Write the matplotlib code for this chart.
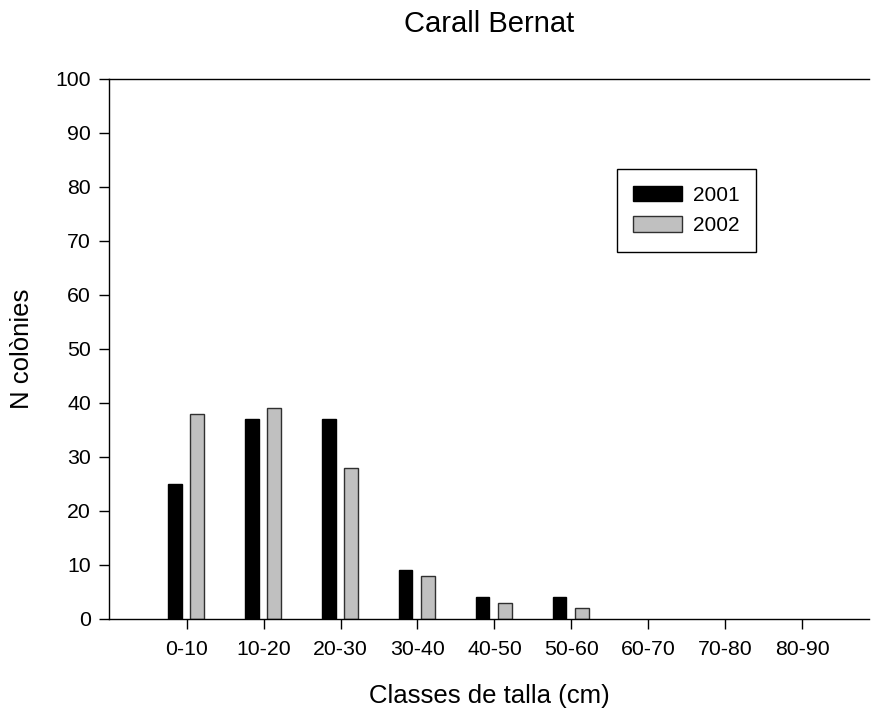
import matplotlib.pyplot as plt
import numpy as np

plt.rcParams['font.family'] = ['Liberation Sans', 'DejaVu Sans']

classes = ['0-10', '10-20', '20-30', '30-40', '40-50', '50-60', '60-70', '70-80', '80-90']
n_2001 = [25, 37, 37, 9, 4, 4, 0, 0, 0]
n_2002 = [38, 39, 28, 8, 3, 2, 0, 0, 0]

x = np.arange(len(classes))
w = 0.18

fig = plt.figure(figsize=(8.71, 7.11), dpi=100)
ax = fig.add_axes([0.125, 0.1294, 0.873, 0.7597])

# empty classes get no outline, so nothing shows on the axis line
ax.bar(x - 0.155, n_2001, w, color='black', edgecolor='black',
       linewidth=[1 if v else 0 for v in n_2001], label='2001')
ax.bar(x + 0.14, n_2002, w, color='#c0c0c0', edgecolor='#303030',
       linewidth=[1 if v else 0 for v in n_2002], label='2002')

ax.set_xlim(-1.01, 8.87)
ax.set_ylim(0, 100)
ax.set_yticks(range(0, 101, 10))
ax.set_xticks(x)
ax.set_xticklabels(classes)
ax.tick_params(axis='both', labelsize=15.3, length=7, width=1, direction='out')
ax.tick_params(axis='x', pad=8)
ax.tick_params(axis='y', pad=6)
ax.spines['right'].set_visible(False)
for s in ['left', 'bottom', 'top']:
    ax.spines[s].set_linewidth(1)

ax.set_xlabel('Classes de talla (cm)', fontsize=18.5, labelpad=18)
ax.set_ylabel('N colònies', fontsize=18.5, labelpad=15)
ax.set_title('Carall Bernat', fontsize=21, pad=34)

leg = ax.legend(loc='upper left', bbox_to_anchor=(0.668, 0.833), fontsize=15,
                frameon=True, fancybox=False, edgecolor='black', framealpha=1,
                handlelength=2.35, handleheight=0.77, handletextpad=0.5,
                borderpad=0.8, borderaxespad=0, labelspacing=0.55)
leg.get_frame().set_linewidth(1)

fig.savefig('out.png', dpi=100)
